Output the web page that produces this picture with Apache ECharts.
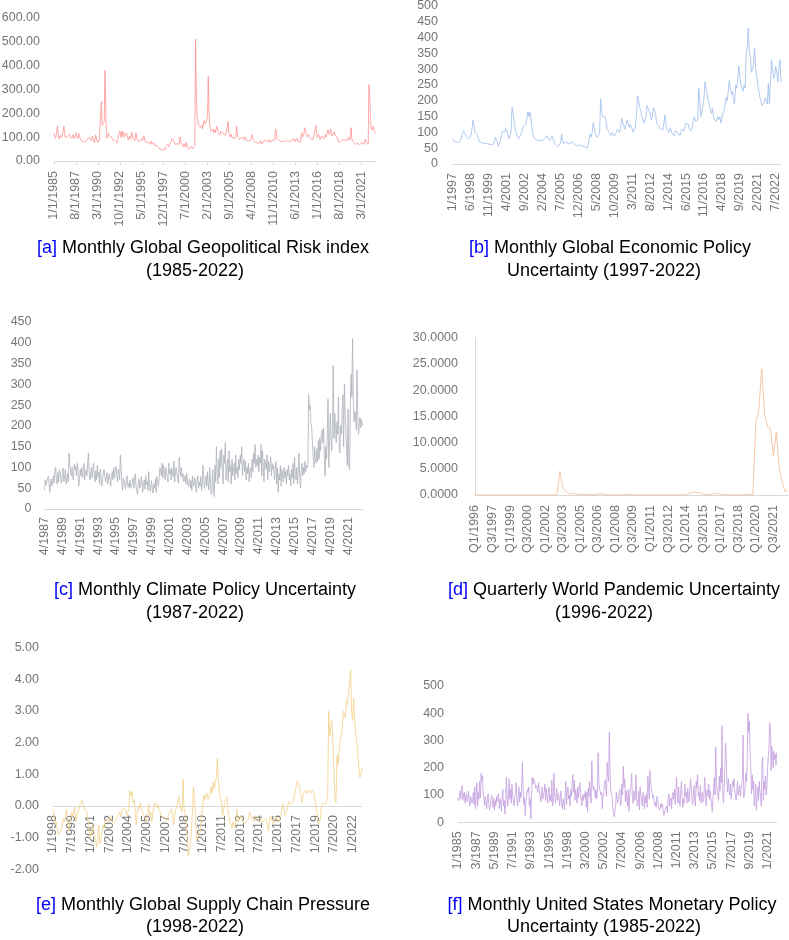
<!DOCTYPE html>
<html><head><meta charset="utf-8">
<script src="https://cdn.jsdelivr.net/npm/echarts@6/dist/echarts.min.js"></script>
<style>html,body{margin:0;padding:0;background:#fff}#c{width:789px;height:940px}</style>
</head><body><div id="c"></div>
<script>
// ---------- data ----------
// [a] Monthly Global Geopolitical Risk index, 1/1985 - 12/2022
const gprValues = [
118,122,95,105,100,148,110,92,100,108,102,98,
105,130,145,115,100,98,108,102,96,104,112,100,
98,102,96,110,104,95,100,118,106,98,92,115,
108,96,90,85,92,88,80,78,86,82,75,92,
90,85,98,102,92,86,104,95,88,78,84,110,
92,84,78,85,90,82,88,250,150,148,155,165,
380,250,110,95,100,118,105,98,112,102,95,90,
88,92,85,80,78,76,90,84,82,125,110,98,
125,108,120,100,95,92,118,110,100,88,95,105,
92,88,120,100,108,95,85,90,118,95,86,90,
88,82,78,90,95,85,92,105,98,80,75,72,
78,70,75,72,80,84,70,68,74,78,64,60,
62,66,70,58,55,52,60,48,45,50,47,55,
52,48,62,58,55,70,60,68,72,75,80,95,
92,85,88,70,75,68,72,80,66,70,100,82,
78,70,65,60,72,66,58,80,62,68,55,50,
55,58,62,70,52,48,60,65,512,300,200,170,
150,145,155,140,138,150,135,160,170,168,155,165,
175,190,355,210,150,140,125,120,130,135,118,130,
120,125,145,140,120,115,110,118,125,130,120,115,
110,120,108,115,130,125,165,115,108,100,112,105,
98,105,100,95,92,108,145,120,100,95,90,88,
92,100,95,98,90,85,102,88,80,92,85,78,
80,85,90,84,110,95,86,82,90,78,76,72,
75,80,82,76,85,78,72,80,84,82,76,88,
80,86,78,82,90,84,78,86,80,88,92,85,
88,135,120,95,100,90,86,84,92,80,78,82,
84,86,90,82,80,78,88,86,90,80,78,85,
88,82,86,94,80,78,85,95,90,80,76,78,
80,78,118,100,95,110,140,135,120,110,100,95,
110,105,98,100,92,88,90,100,95,105,150,120,
100,95,110,102,90,95,105,98,100,92,95,110,
100,105,115,130,120,110,125,135,120,105,100,110,
122,110,105,115,100,90,80,84,88,82,78,85,
90,96,94,88,84,90,86,84,100,95,88,80,
140,90,84,80,74,76,70,72,68,75,72,70,
68,72,75,78,82,74,70,80,92,78,72,75,
70,320,280,200,140,130,125,145,140,120,118,115
];
// [b] Monthly Global Economic Policy Uncertainty, 1/1997 - 12/2022
const gepuValues = [
80,72,78,70,75,68,65,72,85,95,105,100,
92,85,88,80,82,90,110,140,120,100,95,92,
80,70,65,68,72,65,62,66,70,64,60,62,
65,60,62,68,85,90,70,56,60,75,95,105,
110,100,112,105,95,80,85,100,180,160,130,110,
95,88,80,82,90,100,110,120,118,125,140,165,
150,165,140,110,90,82,78,76,80,75,72,74,
78,74,72,80,85,90,82,76,74,80,88,78,
70,62,58,55,56,60,68,95,72,65,62,70,
68,64,62,66,60,70,74,62,60,58,56,60,
62,58,60,56,58,54,52,50,60,75,95,85,
100,130,110,95,85,80,90,100,205,160,150,145,
150,140,110,105,100,95,90,100,105,88,95,100,
110,105,100,115,145,130,120,110,125,140,130,115,
125,120,110,100,95,120,160,215,200,180,170,150,
145,130,125,150,185,175,170,160,140,150,180,170,
160,130,125,120,115,110,112,108,130,155,120,110,
105,100,115,110,95,100,90,105,110,100,95,90,
100,110,115,105,120,130,135,125,110,115,105,120,
140,150,135,130,140,240,200,150,165,170,210,260,
235,220,200,190,170,160,175,150,140,145,135,150,
140,150,130,125,160,170,190,210,200,230,265,240,
220,230,200,190,250,240,270,310,275,250,240,230,
250,240,350,370,430,350,340,290,300,320,365,300,
280,250,230,210,200,185,180,195,210,200,190,255,
190,260,330,300,270,280,310,290,260,300,330,260
];
// [c] Monthly Climate Policy Uncertainty, 4/1987 - 12/2022
const cpuValues = [
45,70,58,62,55,78,65,40,38,
72,55,68,80,62,95,100,70,60,88,65,95,
90,70,62,85,98,66,75,95,60,72,85,65,
135,110,90,80,100,75,70,108,95,102,80,110,
88,55,72,95,80,100,75,90,110,70,85,95,
80,108,135,90,70,68,100,75,95,110,80,65,
92,70,105,78,88,60,95,75,55,70,85,95,
80,65,75,88,60,72,85,68,55,80,90,70,
100,75,90,102,85,65,95,88,70,130,100,60,
45,75,68,58,48,70,80,55,62,50,70,52,
48,62,75,50,70,85,55,45,35,60,72,50,
55,78,65,40,62,70,48,80,58,66,45,90,
60,42,55,68,45,38,60,50,72,40,78,65,
55,70,100,95,80,110,75,105,85,70,100,90,
75,65,110,85,95,70,100,88,78,115,65,92,
100,85,70,62,125,90,80,100,75,85,65,70,
80,60,85,70,55,65,72,50,68,45,80,60,
55,75,62,40,72,80,50,65,55,78,45,60,
105,70,50,65,80,55,90,60,45,100,70,35,
40,95,55,30,105,65,150,90,60,120,75,140,
100,145,85,60,130,110,160,70,95,120,65,140,
90,105,60,120,80,95,110,70,130,85,100,75,
120,95,130,110,150,80,105,120,90,115,70,100,
85,110,65,95,100,75,120,90,135,110,155,100,
120,105,130,90,125,110,155,80,140,100,65,120,
110,95,130,70,115,90,100,125,80,110,95,105,
70,90,115,60,100,40,85,70,105,55,95,80,
65,100,75,90,60,95,80,105,70,85,55,95,
75,110,60,125,80,70,100,60,90,135,75,50,
95,110,80,100,85,115,90,105,100,110,275,240,
250,205,200,160,130,100,150,120,110,145,115,165,
120,170,140,180,190,160,195,130,80,150,120,175,
265,100,160,230,175,140,200,345,170,230,200,160,
210,180,270,150,135,200,180,240,275,150,300,230,
190,140,105,240,100,95,250,325,270,410,260,210,
235,230,190,335,225,180,200,220,195,215,205,200
];
// [d] Quarterly World Pandemic Uncertainty, Q1/1996 - Q4/2022
const wpuiValues = [
0,0,0,0, 0,0,0,0, 0,0,0,0, 0,0,0,0, 0,0,0,0, 0,0,0,0, 0,0,0,0,
0.05,4.5,1.5,0.8,
0.3,0.2,0.25,0.15,
0.1,0.1,0.05,0.05,
0.02,0.05,0.15,0.25,
0.1,0.05,0.02,0.02,
0.02,0.02,0.02,0.02,
0.1,0.05,0.02,0.02,
0.02,0.02,0.02,0.02,
0.02,0.02,0.02,0.02,
0.02,0.02,0.02,0.02,
0.02,0.02,0.02,0.02,
0.02,0.2,0.45,0.55,
0.5,0.4,0.15,0.05,
0.1,0.2,0.25,0.3,
0.1,0.05,0.02,0.02,
0.02,0.02,0.02,0.02,
0.02,0.1,0.05,0.05,
13.8,16,24,15.5,
13,12.7,7.5,12,
5,2.5,0.6,1.0
];
// [e] Monthly Global Supply Chain Pressure, 1/1998 - 10/2022
const gscpiValues = [
-0.1,-0.3,-0.6,-0.5,-0.7,-0.9,-0.85,-0.8,-0.75,-0.6,-0.4,-0.5,
-0.3,-0.1,-0.5,-0.8,-0.5,-0.4,-0.2,-0.35,-0.15,-0.05,-0.5,-0.3,
-0.2,-0.1,0.05,0.1,0.18,0.05,-0.1,-0.05,-0.15,-0.2,-0.5,-0.8,
-1.0,-0.85,-0.6,-0.7,-0.9,-1.1,-1.3,-1.0,-0.6,-1.2,-1.0,-0.9,
-0.6,-0.7,-0.5,-0.45,-0.4,-0.35,-0.5,-0.3,-0.4,-0.45,-0.55,-0.5,
-0.5,-0.4,-0.3,-0.25,-0.2,-0.35,-0.15,-0.1,-0.05,0.0,-0.15,-0.3,
-0.2,-0.05,0.48,0.3,0.45,0.1,0.2,0.15,-0.6,-0.2,0.0,-0.1,
0.1,-0.1,-0.2,-0.3,-0.35,-0.4,-0.5,-0.2,0.05,-0.3,-0.2,-0.5,
-0.2,0.0,0.1,0.05,-0.05,0.05,-0.1,-0.2,-0.3,-0.25,-0.35,-0.3,
-0.4,-0.35,-0.45,-0.3,-0.2,-0.25,-0.1,-0.3,-0.6,-0.3,-0.1,0.0,
0.15,0.3,0.0,-0.1,-0.2,0.85,-0.1,-0.3,-0.6,-1.0,-1.6,-1.4,
-1.2,-0.8,-0.2,0.6,0.2,-0.4,-1.1,-1.0,-0.95,-0.9,-0.6,-0.2,
0.0,0.35,0.2,0.25,0.4,0.2,0.3,0.45,0.6,0.4,0.75,0.55,
0.5,0.9,1.5,0.8,0.4,0.2,0.1,-0.3,-0.1,0.1,0.2,0.3,
0.0,-0.3,-0.5,-0.6,-0.7,-0.5,-0.6,-0.7,-0.4,-0.1,-0.5,-0.4,
-0.35,-0.3,-0.45,-0.5,-0.55,-0.6,-0.5,-0.45,-0.4,-0.2,-0.3,-0.4,
-0.45,-0.5,-0.4,-0.3,-0.35,-0.4,-0.5,-0.45,-0.4,-0.5,-0.55,-0.45,
-0.5,-0.4,-0.6,-0.8,-0.5,-0.3,-0.4,-0.5,-0.6,-0.45,-0.35,-0.3,
-0.4,-0.5,-0.45,-0.3,-0.1,0.05,-0.1,-0.3,-0.2,-0.1,0.05,0.15,
0.1,0.05,0.1,0.15,0.2,0.5,0.65,0.8,0.7,0.6,0.45,0.1,
0.1,0.4,0.45,0.5,0.4,0.45,0.5,0.45,0.4,0.5,0.45,0.4,
0.1,-0.1,-0.2,-0.6,-0.5,-0.4,0.0,0.05,0.1,0.05,0.05,0.05,
0.3,3.0,2.2,2.5,2.7,2.0,1.2,0.2,0.1,1.6,1.3,1.8,
2.0,2.2,2.5,3.0,2.9,2.8,3.3,3.2,3.6,3.9,4.3,3.0,
2.7,3.4,2.7,2.3,2.0,1.6,1.2,0.9,1.0,1.2
];
// [f] Monthly United States Monetary Policy Uncertainty, 1/1985 - 12/2022
const mpuValues = [
90,80,95,115,85,125,135,80,100,110,70,95,
105,75,90,115,80,60,95,100,70,85,110,65,
130,50,95,145,60,110,85,150,90,180,150,170,
100,90,60,95,75,50,85,105,70,45,60,80,
100,70,55,90,45,80,60,95,75,70,105,50,
85,70,40,95,120,60,80,30,70,165,100,60,
95,160,85,120,70,140,100,80,60,95,110,145,
85,60,95,130,75,110,90,145,220,120,65,90,
25,75,95,120,110,130,60,85,12,100,165,140,
160,150,140,125,135,130,110,145,120,100,75,90,
130,85,100,110,140,80,125,95,70,110,130,80,
100,75,155,60,85,180,110,70,95,125,80,105,
95,60,90,115,70,50,85,75,45,100,150,65,
110,130,85,100,60,120,95,145,175,110,155,80,
120,100,70,130,90,85,145,110,115,60,100,80,
105,90,115,55,110,40,125,95,150,110,70,225,
150,120,130,110,90,120,85,110,255,160,125,120,
100,110,50,90,105,140,155,130,95,220,170,150,
330,200,120,115,90,60,40,20,15,60,110,85,
70,95,105,120,60,80,140,100,205,130,160,75,
115,85,60,120,40,95,100,140,180,90,70,115,
110,80,175,95,60,70,115,45,130,100,80,60,
110,100,50,95,70,105,55,170,130,85,190,150,
120,110,90,100,70,60,75,55,95,85,60,55,
45,40,70,55,65,40,25,30,50,45,60,35,
85,105,60,75,90,50,100,110,85,120,65,70,
165,105,70,130,80,60,115,150,90,55,85,70,
140,95,110,70,125,90,75,115,160,130,85,65,
100,135,80,60,150,125,175,95,110,80,135,70,
95,110,75,90,165,130,60,110,120,95,140,85,
115,90,60,40,85,130,165,100,275,140,120,95,
80,170,115,200,145,355,100,70,120,200,290,230,
140,110,160,120,100,140,85,110,150,130,160,120,
125,80,110,150,100,120,135,95,115,140,160,320,
90,110,130,180,150,250,400,330,370,260,200,105,
175,120,150,60,100,140,45,90,130,80,150,110,
95,60,210,240,80,150,120,170,100,130,200,240,
280,365,340,190,280,250,200,260,230,250,210,255
];

// ---------- categories ----------
function monthly(y0, m0, n, fmt) {
  const out = []; let y = y0, m = m0;
  for (let i = 0; i < n; i++) { out.push(fmt(m, y)); m++; if (m > 12) { m = 1; y++; } }
  return out;
}
function quarterly(y0, n) {
  const out = []; let y = y0, q = 1;
  for (let i = 0; i < n; i++) { out.push('Q' + q + '/' + y); q++; if (q > 4) { q = 1; y++; } }
  return out;
}
const gprCategories = monthly(1985, 1, gprValues.length, (m, y) => m + '/1/' + y);
const gepuCategories = monthly(1997, 1, gepuValues.length, (m, y) => m + '/' + y);
const cpuCategories = monthly(1987, 4, cpuValues.length, (m, y) => m + '/' + y);
const wpuiCategories = quarterly(1996, wpuiValues.length);
const gscpiCategories = monthly(1998, 1, gscpiValues.length, (m, y) => m + '/' + y);
const mpuCategories = monthly(1985, 1, mpuValues.length, (m, y) => m + '/' + y);

const captions = [
  ['{k|[a]} Monthly Global Geopolitical Risk index', '(1985-2022)'],
  ['{k|[b]} Monthly Global Economic Policy', 'Uncertainty (1997-2022)'],
  ['{k|[c]} Monthly Climate Policy Uncertainty', '(1987-2022)'],
  ['{k|[d]} Quarterly World Pandemic Uncertainty', '(1996-2022)'],
  ['{k|[e]} Monthly Global Supply Chain Pressure', '(1998-2022)'],
  ['{k|[f]} Monthly United States Monetary Policy', 'Uncertainty (1985-2022)']
];

// ---------- layout / style ----------
const FONT = '"Liberation Sans", Arial, sans-serif';
const LABEL = '#767676';
const AXIS = '#d9d9d9';
const panels = [
  { grid: {left: 54, top: 18, width: 322, height: 143}, cats: gprCategories, vals: gprValues,
    step: 31, tick: true, min: 0, max: 600, iv: 100, dec: 2, color: '#ff9090', ym: 14, xm: 10, fs: 12.5 },
  { grid: {left: 453, top: 6, width: 328, height: 158}, cats: gepuCategories, vals: gepuValues,
    step: 17, tick: false, min: 0, max: 500, iv: 50, dec: 0, color: '#9dbcec', ym: 15, xm: 9, fs: 12.5 },
  { grid: {left: 44.5, top: 322, width: 318.5, height: 187}, cats: cpuCategories, vals: cpuValues,
    step: 24, tick: false, min: 0, max: 450, iv: 50, dec: 0, color: '#adb1ba', ym: 13, xm: 8, fs: 12.5 },
  { grid: {left: 475, top: 337.7, width: 313, height: 157.3}, cats: wpuiCategories, vals: wpuiValues,
    step: 6, tick: false, min: 0, max: 30, iv: 5, dec: 4, color: '#f4b88e', ym: 17, xm: 10, fs: 12.5, yLine: true },
  { grid: {left: 53, top: 647.7, width: 309, height: 221.6}, cats: gscpiCategories, vals: gscpiValues,
    step: 18, tick: false, min: -2, max: 5, iv: 1, dec: 2, color: '#f1d188', ym: 14, xm: 9, fs: 12.5,
    zeroOffset: true },
  { grid: {left: 458, top: 686, width: 318.7, height: 136.3}, cats: mpuCategories, vals: mpuValues,
    step: 26, tick: false, min: 0, max: 500, iv: 100, dec: 0, color: '#c4a0e0', ym: 14, xm: 9, fs: 12.5, clip: 6 }
];
const capPos = [
  [[203, 248], [195, 271]], [[610, 248], [604, 271]],
  [[205, 590], [195, 613]], [[614, 590], [604, 613]],
  [[203, 905], [195, 927]], [[612, 905], [604, 927]]
];

// x axis of [e] sits at the value 0: move the whole axis (line + labels) up by the distance from the bottom to 0
function zeroShift(p) {
  return p.grid.height * (0 - p.min) / (p.max - p.min);
}

const option = {
  animation: false,
  backgroundColor: '#fff',
  grid: panels.map(p => Object.assign({outerBoundsMode: 'none', containLabel: false}, p.grid)),
  xAxis: panels.map((p, i) => ({
    type: 'category', gridIndex: i, data: p.cats, boundaryGap: false,
    offset: p.zeroOffset ? -zeroShift(p) : 0,
    axisLine: {show: true, onZero: false, lineStyle: {color: AXIS, width: 1}},
    axisTick: {show: p.tick, interval: p.step - 1, length: 4, lineStyle: {color: AXIS}},
    axisLabel: {
      interval: p.step - 1, rotate: 90, margin: p.xm, color: LABEL,
      fontSize: p.fs, fontFamily: FONT,
      formatter: p.clip ? (v => v.length > p.clip ? v.slice(-p.clip) : v) : null
    },
    splitLine: {show: false}
  })),
  yAxis: panels.map((p, i) => ({
    type: 'value', gridIndex: i, min: p.min, max: p.max, interval: p.iv,
    axisLine: {show: !!p.yLine, lineStyle: {color: AXIS}},
    axisTick: {show: false}, splitLine: {show: false},
    axisLabel: {margin: p.ym, color: LABEL, fontSize: p.fs, fontFamily: FONT,
      formatter: v => v.toFixed(p.dec)}
  })),
  series: panels.map((p, i) => ({
    type: 'line', xAxisIndex: i, yAxisIndex: i, data: p.vals,
    showSymbol: false, symbol: 'none', smooth: false,
    lineStyle: {color: p.color, width: 0.8}, z: 3
  })),
  graphic: captions.flatMap((c, i) => c.map((t, j) => ({
    type: 'text', x: capPos[i][j][0], y: capPos[i][j][1], silent: true,
    style: {
      text: t, fill: '#000', font: '18px ' + FONT,
      align: 'center', verticalAlign: 'middle',
      textAlign: 'center', textVerticalAlign: 'middle',
      rich: {k: {fill: '#0000ff', font: '18px ' + FONT}}
    }
  })))
};
const chart = echarts.init(document.getElementById('c'), null, {renderer: 'canvas'});
chart.setOption(option);
</script></body></html>
